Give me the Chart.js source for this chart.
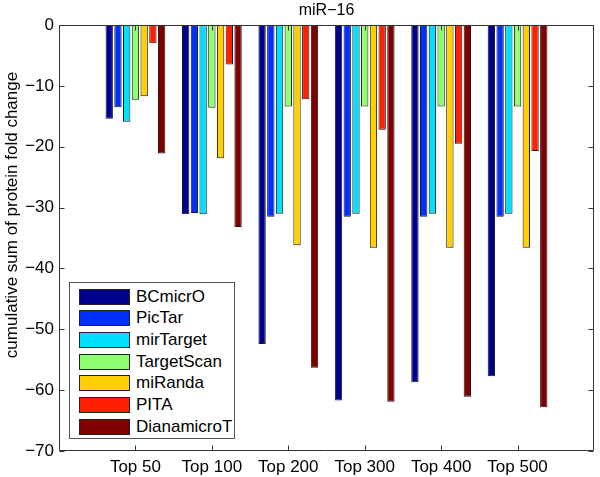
<!DOCTYPE html>
<html>
<head>
<meta charset="utf-8">
<script src="https://cdn.jsdelivr.net/npm/chart.js@4/dist/chart.umd.min.js"></script>
<style>
body { margin: 0; background: #fff; }
#wrap { position: relative; width: 600px; height: 477px; font-family: "Liberation Sans", Arial, sans-serif; }
#legend { position: absolute; left: 69px; top: 282px; width: 164px; height: 155px; border: 1px solid #555; background: #fff; }
.row { position: absolute; left: 9px; height: 15px; display: flex; align-items: center; }
.sw { width: 49px; height: 14px; border: 1px solid #222; margin-right: 6px; flex: none; }
.lb { font-size: 17px; color: #000; white-space: nowrap; }
</style>
</head>
<body>
<div id="wrap">
  <canvas id="c"></canvas>
  <div id="legend"></div>
</div>
<script>
"use strict";
const categories = ['Top 50', 'Top 100', 'Top 200', 'Top 300', 'Top 400', 'Top 500'];
const seriesNames = ['BCmicrO', 'PicTar', 'mirTarget', 'TargetScan', 'miRanda', 'PITA', 'DianamicroT'];
const bcmicro = [-15.4, -31.1, -52.4, -61.7, -58.7, -57.7];
const pictar = [-13.5, -30.9, -31.5, -31.5, -31.5, -31.5];
const mirtarget = [-15.9, -31.1, -31.0, -31.0, -31.0, -31.0];
const targetscan = [-12.3, -13.6, -13.4, -13.4, -13.4, -13.4];
const miranda = [-11.7, -21.9, -36.2, -36.6, -36.6, -36.6];
const pita = [-3.0, -6.5, -12.2, -17.2, -19.5, -20.7];
const dianamicrot = [-21.1, -33.2, -56.3, -61.9, -61.1, -62.8];
const yTicks = [0, -10, -20, -30, -40, -50, -60, -70];

const colors = ['#00008F', '#0030FF', '#00DFFF', '#8FFF70', '#FFCF00', '#FF2000', '#800000'];
const allSeries = [bcmicro, pictar, mirtarget, targetscan, miranda, pita, dianamicrot];
const FONT = '"Liberation Sans", Arial, sans-serif';
const minus = v => v < 0 ? '\u2212' + Math.abs(v) : String(v);

// empty slot at each end so the groups sit at 1..6 on a 0..7 axis, like MATLAB
const labels = ['', ...categories, ''];
const datasets = allSeries.map((s, i) => ({
    label: seriesNames[i],
    data: [null, ...s, null],
    backgroundColor: colors[i],
    borderColor: '#1a1a1a',
    borderWidth: 1,
    borderSkipped: false,
    categoryPercentage: 0.8,
    barPercentage: 0.84
}));

const matlabAxes = {
    id: 'matlabAxes',
    afterDatasetsDraw(chart)
    {
        const { ctx, chartArea: a, scales: { x, y } } = chart;
        ctx.save();
        ctx.strokeStyle = '#333';
        ctx.lineWidth = 1;
        const L = Math.round(a.left) + 0.5, R = Math.round(a.right) - 0.5;
        const T = Math.round(a.top) + 0.5, B = Math.round(a.bottom) - 0.5;
        ctx.beginPath();
        ctx.rect(L, T, R - L, B - T);
        yTicks.forEach(v =>
        {
            const py = Math.round(y.getPixelForValue(v)) + 0.5;
            ctx.moveTo(L, py); ctx.lineTo(L + 5, py);
            ctx.moveTo(R, py); ctx.lineTo(R - 5, py);
        });
        categories.forEach((c, i) =>
        {
            const px = Math.round(x.getPixelForValue(i + 1)) + 0.5;
            ctx.moveTo(px, B); ctx.lineTo(px, B - 5);
            ctx.moveTo(px, T); ctx.lineTo(px, T + 5);
        });
        ctx.stroke();
        // y axis label
        ctx.translate(12, 215);
        ctx.rotate(-Math.PI / 2);
        ctx.fillStyle = '#000';
        ctx.font = '17px ' + FONT;
        ctx.textAlign = 'center';
        ctx.textBaseline = 'middle';
        ctx.fillText('cumulative sum of protein fold change', 0, 0);
        ctx.restore();
    }
};

new Chart(document.getElementById('c'), {
    type: 'bar',
    data: { labels, datasets },
    plugins: [matlabAxes],
    options: {
        responsive: true,
        maintainAspectRatio: false,
        animation: false,
        layout: { padding: { right: 2 } },
        scales: {
            x: {
                offset: false,
                grid: { display: false, drawTicks: false },
                border: { display: false },
                ticks: { font: { family: FONT, size: 17 }, color: '#000', padding: 6, maxRotation: 0, autoSkip: false },
                afterFit: s => { s.height = 26; }
            },
            y: {
                min: -70,
                max: 0,
                grid: { display: false, drawTicks: false },
                border: { display: false },
                ticks: { stepSize: 10, callback: minus, font: { family: FONT, size: 17 }, color: '#000', padding: 5 },
                afterFit: s => { s.width = 59; }
            }
        },
        plugins: {
            legend: { display: false },
            tooltip: { enabled: false },
            title: {
                display: true,
                text: 'miR\u221216',
                fullSize: false,
                color: '#000',
                font: { family: FONT, size: 16, weight: 'normal', lineHeight: 1.0625 },
                padding: { top: 2, bottom: 6 }
            }
        }
    }
});

legend.innerHTML = seriesNames.map((n, i) =>
    `<div class="row" style="top:${6 + i * 21.7}px"><div class="sw" style="background:${colors[i]}"></div><span class="lb">${n}</span></div>`
).join('');
</script>
</body>
</html>
